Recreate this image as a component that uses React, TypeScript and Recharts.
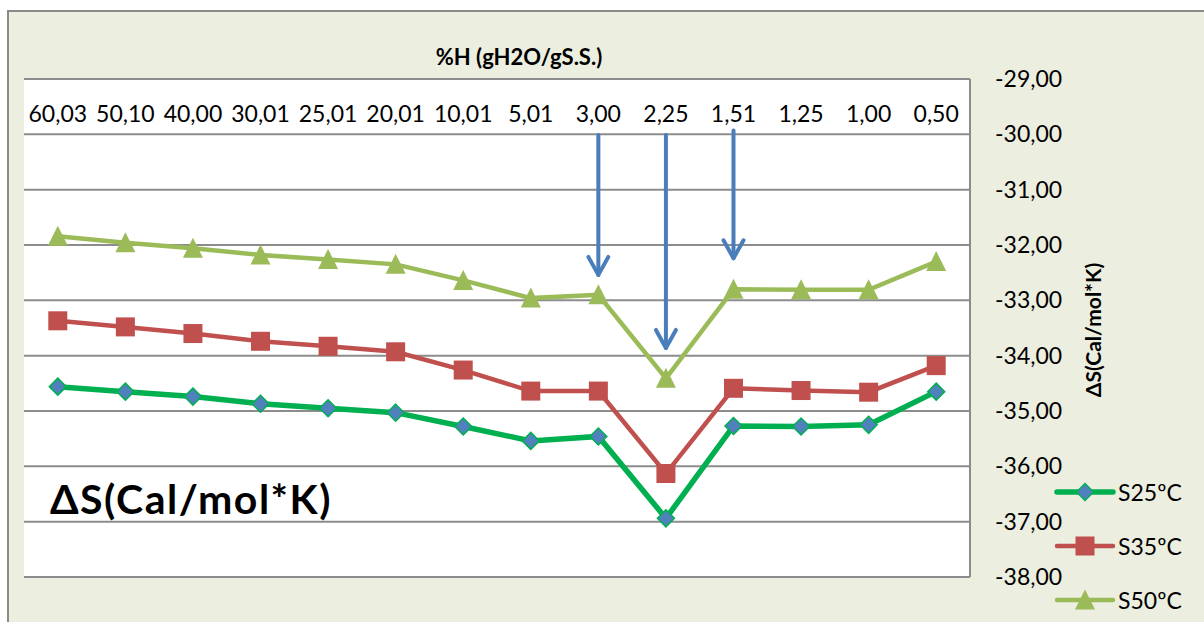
import React from "react";
import { LineChart, Line, XAxis, YAxis, CartesianGrid, ReferenceLine, Legend } from "recharts";

// humedad (%H) en cada punto de la isoterma
const humidity = ["60,03", "50,10", "40,00", "30,01", "25,01", "20,01", "10,01", "5,01", "3,00", "2,25", "1,51", "1,25", "1,00", "0,50"];

// entropía diferencial ΔS por temperatura
const s25 = [-34.56, -34.65, -34.74, -34.87, -34.95, -35.03, -35.28, -35.54, -35.46, -36.94, -35.27, -35.28, -35.25, -34.65];
const s35 = [-33.37, -33.48, -33.6, -33.74, -33.83, -33.93, -34.26, -34.64, -34.64, -36.13, -34.59, -34.63, -34.66, -34.18];
const s50 = [-31.84, -31.96, -32.06, -32.18, -32.26, -32.35, -32.64, -32.96, -32.9, -34.41, -32.8, -32.81, -32.81, -32.3];

const yTicks = [-38, -37, -36, -35, -34, -33, -32, -31, -30, -29];

// flechas que marcan los puntos de cambio
const arrowAt = ["3,00", "2,25", "1,51"];
const arrowFrom = [-30.01, -30.01, -29.93];
const arrowTo = [-32.54, -33.86, -32.24];

const FONT = "Lato, 'Open Sans', sans-serif";
const BG = "#ECEEE0";

const data = humidity.map((h, i) => ({ h, S25: s25[i], S35: s35[i], S50: s50[i] }));

const fmt = (v: number) => v.toFixed(2).replace(".", ",");

// marcadores (recharts pasa r propio, así que se usan otros nombres)
const Diamond = ({ cx, cy }: any) => {
  if (cx == null) return null;
  const d = 8.5;
  return (
    <polygon
      points={`${cx},${cy - d} ${cx + d},${cy} ${cx},${cy + d} ${cx - d},${cy}`}
      fill="#4F81BD"
      stroke="#00B050"
      strokeWidth={1.5}
    />
  );
};

const Square = ({ cx, cy }: any) => {
  if (cx == null) return null;
  const s = 9.5;
  return <rect x={cx - s} y={cy - s} width={s * 2} height={s * 2} fill="#C0504D" />;
};

const Triangle = ({ cx, cy }: any) => {
  if (cx == null) return null;
  const w = 10;
  const h = 9.5;
  return <polygon points={`${cx},${cy - h - 1} ${cx + w},${cy + h} ${cx - w},${cy + h}`} fill="#9BBB59" />;
};

const series = [
  { key: "S25", name: "S25ºC", color: "#00B050", width: 5.5, Dot: Diamond },
  { key: "S35", name: "S35ºC", color: "#C0504D", width: 4.5, Dot: Square },
  { key: "S50", name: "S50ºC", color: "#9BBB59", width: 4.5, Dot: Triangle },
];

const TopTick = ({ x, y, payload }: any) => (
  <text x={x} y={y + 43} textAnchor="middle" fontSize={23} fontFamily={FONT} fill="#000">
    {payload.value}
  </text>
);

const Arrow = ({ x1, y1, x2, y2 }: any) => (
  <g stroke="#4A7EBB" strokeWidth={4} fill="none" strokeLinecap="round" strokeLinejoin="round">
    <line x1={x1} y1={y1} x2={x2} y2={y2} />
    <polyline points={`${x2 - 10},${y2 - 18} ${x2},${y2} ${x2 + 10},${y2 - 18}`} />
  </g>
);

const LegendBox = () => (
  <div style={{ fontFamily: FONT, fontSize: 23, color: "#000" }}>
    {series.map((s) => (
      <div key={s.key} style={{ display: "flex", alignItems: "center", height: 54 }}>
        <svg width={62} height={30}>
          <line x1={3} y1={15} x2={59} y2={15} stroke={s.color} strokeWidth={s.width} strokeLinecap="round" />
          <s.Dot cx={31} cy={15} />
        </svg>
        <span style={{ marginLeft: 2 }}>{s.name}</span>
      </div>
    ))}
  </div>
);

export default function App() {
  return (
    <div style={{ position: "absolute", left: 0, top: 0, width: 1204, height: 622, background: "#fff", overflow: "hidden" }}>
      <div
        style={{
          position: "absolute",
          left: 7,
          top: 10,
          width: 1220,
          height: 640,
          background: BG,
          border: "2px solid #8A8A8A",
          boxSizing: "border-box",
        }}
      />
      <div style={{ position: "absolute", left: 0, top: 0 }}>
        <LineChart width={1204} height={622} data={data} margin={{ top: 59, right: 124, bottom: 45, left: 24 }}>
          <CartesianGrid vertical={false} stroke="#8C8C8C" strokeWidth={2} fill="#fff" />
          <XAxis
            dataKey="h"
            orientation="top"
            height={20}
            axisLine={false}
            tickLine={false}
            tickSize={0}
            tickMargin={0}
            padding={{ left: 33.8, right: 33.8 }}
            interval={0}
            tick={<TopTick />}
          />
          <YAxis
            orientation="right"
            width={110}
            domain={[-38, -29]}
            ticks={yTicks}
            interval={0}
            tickFormatter={fmt}
            axisLine={{ stroke: "#8C8C8C", strokeWidth: 2 }}
            tickLine={false}
            tickSize={0}
            tickMargin={25}
            tick={{ fill: "#000", fontSize: 23, fontFamily: FONT }}
          />
          {series.map((s) => (
            <Line
              key={s.key}
              type="linear"
              dataKey={s.key}
              name={s.name}
              stroke={s.color}
              strokeWidth={s.width}
              dot={<s.Dot />}
              activeDot={false}
              isAnimationActive={false}
            />
          ))}
          {arrowAt.map((h, i) => (
            <ReferenceLine
              key={h}
              segment={[
                { x: h, y: arrowFrom[i] },
                { x: h, y: arrowTo[i] },
              ]}
              shape={<Arrow />}
            />
          ))}
          <Legend
            layout="horizontal"
            align="center"
            verticalAlign="middle"
            content={<LegendBox />}
            wrapperStyle={{ left: 1054, top: 465, width: 150, height: 162 }}
          />
        </LineChart>
      </div>
      <div
        style={{
          position: "absolute",
          left: 369,
          width: 300,
          top: 42,
          textAlign: "center",
          fontFamily: FONT,
          fontWeight: 700,
          fontSize: 22,
          lineHeight: "30px",
          color: "#000",
        }}
      >
        %H (gH2O/gS.S.)
      </div>
      <div
        style={{
          position: "absolute",
          left: 1092,
          top: 330,
          transform: "translate(-50%, -50%) rotate(-90deg)",
          whiteSpace: "nowrap",
          fontFamily: FONT,
          fontWeight: 700,
          fontSize: 21,
          color: "#000",
        }}
      >
        ΔS(Cal/mol*K)
      </div>
      <div
        style={{
          position: "absolute",
          left: 50,
          top: 472,
          whiteSpace: "nowrap",
          fontFamily: FONT,
          fontWeight: 700,
          fontSize: 41,
          letterSpacing: 1.5,
          lineHeight: "54px",
          color: "#000",
        }}
      >
        ΔS(Cal/mol*K)
      </div>
    </div>
  );
}
